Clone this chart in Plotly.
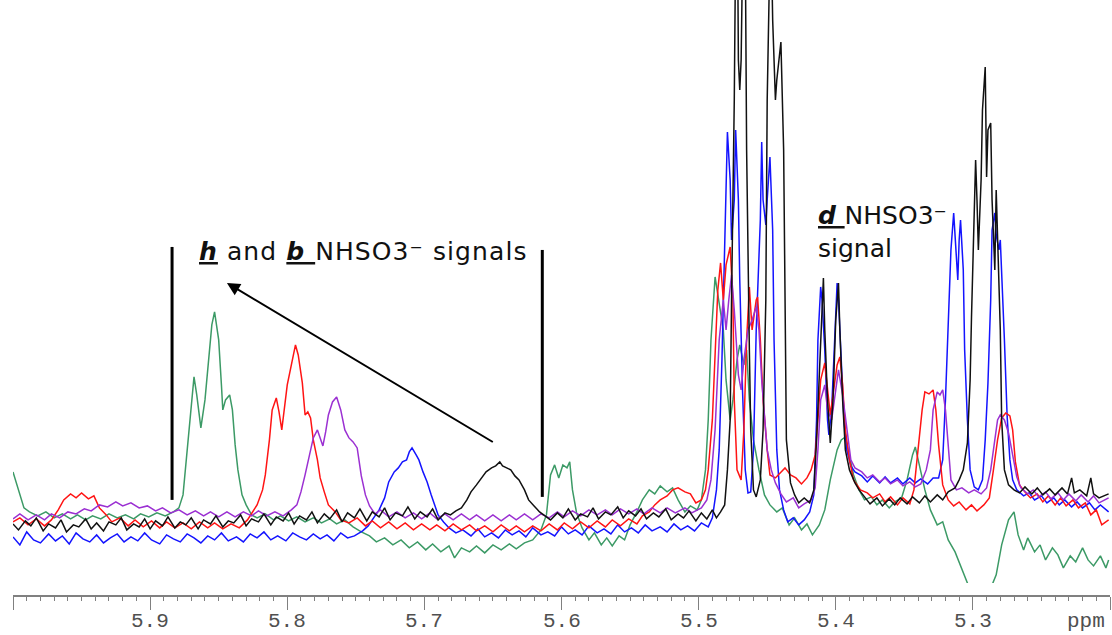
import plotly.graph_objects as go

# (chemical shift in ppm, intensity in arbitrary units)
green = [(6.000, 43), (5.996, 25), (5.992, 7), (5.988, 3), (5.982, -1), (5.976, 3), (5.970, -3), (5.964, 1),
         (5.958, -4), (5.953, 0), (5.947, -5), (5.942, -1), (5.936, -4), (5.930, 1), (5.924, -3), (5.918, 0),
         (5.912, -4), (5.907, 1), (5.901, -2), (5.895, 2), (5.889, -1), (5.883, 3), (5.879, 7), (5.876, 20),
         (5.873, 65), (5.870, 115), (5.868, 138), (5.866, 120), (5.863, 87), (5.860, 115), (5.857, 165),
         (5.855, 190), (5.853, 203), (5.850, 175), (5.848, 130), (5.847, 105), (5.845, 115), (5.842, 120),
         (5.840, 105), (5.838, 70), (5.836, 45), (5.833, 20), (5.830, 10), (5.826, 0), (5.822, -3), (5.816, 1),
         (5.810, -5), (5.805, -1), (5.799, -6), (5.793, -2), (5.787, -7), (5.781, -3), (5.775, -8), (5.769, -4),
         (5.764, -9), (5.758, -5), (5.752, -12), (5.746, -17), (5.740, -21), (5.735, -27), (5.729, -23),
         (5.723, -30), (5.717, -25), (5.711, -33), (5.705, -27), (5.699, -35), (5.694, -29), (5.688, -37),
         (5.682, -31), (5.678, -43), (5.673, -33), (5.667, -37), (5.662, -31), (5.656, -38), (5.650, -30),
         (5.644, -35), (5.638, -29), (5.633, -34), (5.627, -28), (5.621, -25), (5.615, -15), (5.611, 0),
         (5.608, 40), (5.605, 50), (5.602, 37), (5.599, 50), (5.596, 47), (5.594, 53), (5.592, 25), (5.589, 2),
         (5.585, -13), (5.580, -25), (5.576, -18), (5.571, -30), (5.567, -23), (5.563, -31), (5.558, -21),
         (5.554, -25), (5.550, -10), (5.545, 3), (5.541, 15), (5.536, 25), (5.532, 21), (5.528, 29), (5.523, 23),
         (5.519, 27), (5.515, 15), (5.510, 3), (5.506, 9), (5.501, 5), (5.498, 15), (5.495, 45), (5.493, 95),
         (5.491, 175), (5.488, 238), (5.486, 220), (5.484, 205), (5.482, 185), (5.480, 135), (5.477, 95),
         (5.475, 115), (5.472, 155), (5.470, 170), (5.467, 150), (5.465, 165), (5.463, 115), (5.460, 75),
         (5.456, 45), (5.452, 20), (5.448, 10), (5.443, 3), (5.439, 7), (5.434, -10), (5.430, -3), (5.425, -15),
         (5.421, -9), (5.417, -20), (5.412, -10), (5.408, 5), (5.404, 35), (5.399, 65), (5.396, 75), (5.393, 78),
         (5.390, 60), (5.387, 40), (5.383, 25), (5.379, 15), (5.374, 18), (5.370, 10), (5.366, 15), (5.361, 7),
         (5.357, 13), (5.352, 17), (5.348, 35), (5.344, 60), (5.342, 68), (5.339, 50), (5.335, 25), (5.331, 5),
         (5.326, -10), (5.322, -7), (5.318, -25), (5.313, -37), (5.309, -51), (5.305, -63), (5.302, -75),
         (5.296, -85), (5.289, -80), (5.283, -60), (5.279, -30), (5.274, -5), (5.270, 3), (5.267, -20),
         (5.263, -35), (5.260, -23), (5.255, -37), (5.251, -30), (5.247, -45), (5.242, -33), (5.238, -40),
         (5.234, -53), (5.229, -41), (5.225, -47), (5.220, -33), (5.216, -45), (5.212, -51), (5.207, -41),
         (5.203, -53), (5.201, -45)]

red = [(6.000, -7), (5.995, -3), (5.989, -10), (5.983, -4), (5.977, -11), (5.972, -5), (5.967, 5), (5.963, 15),
       (5.958, 21), (5.954, 17), (5.950, 22), (5.945, 16), (5.941, 19), (5.937, 7), (5.932, 0), (5.928, -7),
       (5.922, -3), (5.916, -11), (5.911, -5), (5.905, -12), (5.899, -6), (5.893, -13), (5.888, -7), (5.882, -13),
       (5.876, -8), (5.870, -14), (5.864, -7), (5.858, -13), (5.853, -8), (5.847, -14), (5.841, -9), (5.835, -13),
       (5.829, -5), (5.825, 3), (5.822, 10), (5.818, 25), (5.816, 40), (5.813, 75), (5.811, 105), (5.808, 117),
       (5.806, 103), (5.804, 85), (5.802, 105), (5.800, 130), (5.797, 150), (5.795, 165), (5.794, 170),
       (5.792, 160), (5.789, 132), (5.787, 100), (5.785, 103), (5.783, 97), (5.781, 75), (5.778, 55), (5.776, 37),
       (5.773, 23), (5.770, 10), (5.765, 3), (5.761, -5), (5.755, -8), (5.749, -3), (5.743, -11), (5.738, -6),
       (5.732, -13), (5.726, -7), (5.720, -14), (5.714, -8), (5.708, -15), (5.702, -9), (5.696, -15), (5.691, -10),
       (5.685, -16), (5.679, -9), (5.673, -15), (5.667, -10), (5.662, -16), (5.656, -11), (5.650, -17),
       (5.644, -10), (5.638, -16), (5.633, -11), (5.627, -17), (5.621, -11), (5.615, -16), (5.609, -9),
       (5.603, -15), (5.598, -8), (5.592, -14), (5.586, -7), (5.580, -13), (5.574, -6), (5.568, -12), (5.563, -5),
       (5.557, -11), (5.551, -4), (5.545, -9), (5.541, -1), (5.536, 3), (5.532, 10), (5.528, 15), (5.523, 19),
       (5.519, 25), (5.515, 27), (5.510, 23), (5.506, 21), (5.502, 12), (5.498, 15), (5.495, 25), (5.493, 45),
       (5.490, 95), (5.488, 165), (5.486, 225), (5.484, 252), (5.482, 215), (5.480, 250), (5.477, 268),
       (5.475, 215), (5.474, 115), (5.472, 45), (5.469, 35), (5.467, 85), (5.465, 175), (5.463, 228),
       (5.461, 185), (5.458, 215), (5.457, 218), (5.455, 175), (5.453, 115), (5.450, 65), (5.448, 40),
       (5.444, 37), (5.440, 43), (5.437, 47), (5.433, 40), (5.429, 37), (5.425, 31), (5.421, 37), (5.418, 45),
       (5.415, 60), (5.413, 95), (5.411, 135), (5.408, 152), (5.406, 125), (5.404, 100), (5.402, 120),
       (5.399, 150), (5.397, 158), (5.395, 130), (5.393, 85), (5.390, 55), (5.387, 35), (5.382, 25), (5.377, 22),
       (5.373, 17), (5.368, 21), (5.364, 13), (5.360, 18), (5.355, 10), (5.351, 17), (5.346, 11), (5.343, 25),
       (5.340, 65), (5.337, 105), (5.335, 123), (5.332, 121), (5.329, 125), (5.327, 105), (5.325, 70),
       (5.322, 30), (5.318, 15), (5.314, 9), (5.310, 13), (5.305, 5), (5.301, 10), (5.297, 4), (5.292, 10),
       (5.288, 17), (5.285, 45), (5.282, 75), (5.279, 97), (5.276, 102), (5.273, 99), (5.271, 85), (5.269, 53),
       (5.266, 30), (5.262, 23), (5.258, 17), (5.253, 21), (5.249, 13), (5.245, 19), (5.240, 10), (5.236, 17),
       (5.232, 9), (5.227, 15), (5.223, 7), (5.218, 12), (5.214, 0), (5.210, 5), (5.206, -10), (5.201, -5)]

purple = [(6.000, -4), (5.995, 1), (5.989, -5), (5.983, 0), (5.977, -5), (5.972, 1), (5.966, -3), (5.960, 3),
          (5.954, 1), (5.948, 6), (5.943, 4), (5.937, 10), (5.931, 8), (5.925, 13), (5.920, 9), (5.914, 12),
          (5.908, 7), (5.902, 9), (5.896, 4), (5.891, 7), (5.885, 2), (5.879, 5), (5.873, 0), (5.867, 4),
          (5.861, -1), (5.856, 3), (5.850, -2), (5.844, 3), (5.838, -2), (5.832, 3), (5.826, -1), (5.821, 4),
          (5.815, -1), (5.809, 3), (5.803, -1), (5.797, 5), (5.793, 10), (5.790, 23), (5.787, 40), (5.784, 60),
          (5.781, 77), (5.778, 85), (5.776, 77), (5.774, 69), (5.772, 83), (5.770, 100), (5.767, 113),
          (5.764, 118), (5.761, 105), (5.758, 85), (5.755, 77), (5.752, 73), (5.749, 67), (5.746, 39), (5.743, 20),
          (5.740, 9), (5.736, 1), (5.732, 5), (5.726, -2), (5.720, 3), (5.714, -3), (5.708, 2), (5.702, -4),
          (5.696, 2), (5.691, -4), (5.685, 1), (5.679, -5), (5.673, 1), (5.667, -5), (5.662, 0), (5.656, -6),
          (5.650, 0), (5.644, -6), (5.638, 0), (5.633, -5), (5.627, 1), (5.621, -5), (5.615, 1), (5.609, -3),
          (5.603, 3), (5.598, -2), (5.592, 4), (5.586, -1), (5.580, 5), (5.574, 0), (5.568, 5), (5.563, 0),
          (5.557, 6), (5.551, 1), (5.545, 6), (5.540, 1), (5.534, 7), (5.528, 2), (5.523, 7), (5.517, 2),
          (5.510, 7), (5.505, 2), (5.498, 7), (5.494, 15), (5.491, 35), (5.488, 85), (5.485, 175), (5.482, 215),
          (5.480, 185), (5.478, 215), (5.476, 240), (5.474, 205), (5.471, 140), (5.469, 125), (5.467, 155),
          (5.464, 185), (5.461, 195), (5.458, 208), (5.456, 185), (5.454, 135), (5.452, 95), (5.450, 65),
          (5.447, 45), (5.444, 32), (5.440, 21), (5.436, 13), (5.431, 17), (5.427, 7), (5.423, 11), (5.418, 15),
          (5.415, 27), (5.413, 65), (5.411, 115), (5.408, 130), (5.406, 105), (5.403, 95), (5.400, 125),
          (5.398, 145), (5.395, 120), (5.392, 85), (5.389, 55), (5.386, 47), (5.381, 43), (5.377, 37), (5.373, 40),
          (5.368, 33), (5.364, 37), (5.360, 31), (5.355, 35), (5.351, 29), (5.346, 33), (5.342, 28), (5.338, 31),
          (5.334, 45), (5.331, 65), (5.329, 105), (5.326, 123), (5.324, 120), (5.322, 125), (5.320, 105),
          (5.318, 65), (5.316, 35), (5.312, 25), (5.308, 27), (5.303, 22), (5.299, 25), (5.294, 21), (5.290, 27),
          (5.287, 45), (5.284, 75), (5.282, 95), (5.280, 100), (5.277, 95), (5.274, 82), (5.271, 60), (5.268, 38),
          (5.265, 27), (5.260, 21), (5.256, 25), (5.252, 18), (5.247, 23), (5.243, 16), (5.238, 22), (5.234, 15),
          (5.230, 21), (5.225, 14), (5.221, 20), (5.216, 13), (5.212, 19), (5.208, 12), (5.201, 17)]

blue = [(6.000, -22), (5.995, -30), (5.990, -17), (5.985, -25), (5.980, -28), (5.974, -19), (5.969, -26),
        (5.964, -21), (5.959, -29), (5.954, -18), (5.949, -24), (5.944, -27), (5.939, -20), (5.934, -28),
        (5.929, -23), (5.924, -19), (5.919, -27), (5.914, -22), (5.909, -26), (5.904, -18), (5.899, -25),
        (5.893, -29), (5.888, -20), (5.883, -24), (5.878, -27), (5.873, -19), (5.868, -23), (5.863, -28),
        (5.858, -21), (5.853, -25), (5.848, -18), (5.843, -26), (5.837, -22), (5.832, -27), (5.827, -19),
        (5.822, -23), (5.817, -17), (5.812, -25), (5.807, -21), (5.801, -26), (5.796, -18), (5.791, -22),
        (5.786, -25), (5.781, -19), (5.776, -24), (5.771, -20), (5.766, -26), (5.761, -18), (5.756, -23),
        (5.751, -21), (5.745, -16), (5.741, -11), (5.737, -3), (5.733, 5), (5.729, 17), (5.726, 33), (5.722, 43),
        (5.719, 47), (5.716, 53), (5.713, 55), (5.711, 63), (5.709, 67), (5.706, 60), (5.704, 55), (5.701, 43),
        (5.698, 33), (5.695, 20), (5.693, 12), (5.690, 0), (5.686, -7), (5.682, -13), (5.677, -18), (5.672, -15),
        (5.666, -21), (5.661, -14), (5.656, -22), (5.651, -18), (5.646, -23), (5.641, -15), (5.636, -20),
        (5.631, -16), (5.626, -22), (5.621, -13), (5.615, -20), (5.610, -17), (5.605, -21), (5.600, -12),
        (5.595, -19), (5.590, -15), (5.585, -20), (5.580, -11), (5.574, -18), (5.569, -14), (5.564, -19),
        (5.559, -10), (5.554, -17), (5.549, -13), (5.544, -18), (5.539, -10), (5.534, -16), (5.528, -12),
        (5.523, -17), (5.518, -9), (5.513, -15), (5.508, -11), (5.503, -16), (5.498, -8), (5.493, -12),
        (5.490, -3), (5.487, 25), (5.485, 65), (5.483, 155), (5.481, 265), (5.479, 383), (5.477, 335),
        (5.476, 275), (5.474, 315), (5.473, 385), (5.471, 315), (5.470, 235), (5.468, 125), (5.466, 45),
        (5.464, 22), (5.462, 23), (5.460, 65), (5.458, 185), (5.455, 295), (5.454, 373), (5.453, 315),
        (5.451, 290), (5.450, 315), (5.448, 358), (5.446, 285), (5.445, 175), (5.443, 65), (5.441, 25),
        (5.438, 5), (5.435, -7), (5.431, -3), (5.427, -10), (5.423, -5), (5.419, 3), (5.416, 20), (5.414, 95),
        (5.413, 175), (5.411, 228), (5.410, 215), (5.408, 165), (5.406, 95), (5.405, 80), (5.403, 105),
        (5.401, 175), (5.399, 232), (5.398, 215), (5.396, 148), (5.394, 95), (5.392, 65), (5.389, 49),
        (5.386, 43), (5.381, 39), (5.377, 33), (5.373, 39), (5.368, 32), (5.364, 38), (5.360, 32), (5.355, 37),
        (5.351, 31), (5.346, 37), (5.342, 32), (5.338, 36), (5.333, 31), (5.329, 37), (5.325, 37), (5.322, 55),
        (5.320, 115), (5.318, 198), (5.316, 265), (5.314, 302), (5.313, 275), (5.311, 235), (5.310, 275),
        (5.309, 295), (5.307, 245), (5.306, 165), (5.304, 95), (5.302, 45), (5.299, 28), (5.296, 25), (5.293, 35),
        (5.291, 75), (5.289, 132), (5.287, 215), (5.286, 285), (5.284, 302), (5.283, 280), (5.281, 265),
        (5.280, 275), (5.279, 235), (5.277, 175), (5.275, 98), (5.273, 55), (5.271, 35), (5.268, 25), (5.263, 19),
        (5.259, 22), (5.255, 15), (5.250, 19), (5.246, 12), (5.241, 17), (5.237, 10), (5.233, 15), (5.228, 8),
        (5.224, 13), (5.220, 7), (5.215, 12), (5.211, 5), (5.207, 10), (5.201, 3)]

black = [(6.000, -9), (5.996, -15), (5.991, -6), (5.987, -11), (5.983, -3), (5.978, -16), (5.974, -9),
         (5.969, -13), (5.965, -5), (5.961, -17), (5.956, -10), (5.952, -12), (5.947, -4), (5.943, -14),
         (5.939, -8), (5.934, -16), (5.930, -7), (5.925, -10), (5.921, -3), (5.917, -15), (5.912, -9),
         (5.908, -12), (5.904, -4), (5.900, -14), (5.896, -6), (5.891, -11), (5.887, -2), (5.882, -13),
         (5.878, -7), (5.874, -10), (5.870, -3), (5.865, -14), (5.861, -5), (5.856, -9), (5.852, -1),
         (5.847, -12), (5.843, -6), (5.839, -8), (5.834, 0), (5.830, -11), (5.826, -4), (5.821, -7),
         (5.817, 1), (5.812, -10), (5.808, -2), (5.803, -6), (5.799, 2), (5.795, -9), (5.791, -1), (5.786, -5),
         (5.782, 3), (5.778, -8), (5.773, 1), (5.769, -4), (5.764, 5), (5.760, -7), (5.756, 2), (5.751, -3),
         (5.747, 6), (5.742, -6), (5.738, 3), (5.733, -2), (5.729, 7), (5.725, -5), (5.721, 2), (5.716, -1),
         (5.712, 8), (5.707, -4), (5.703, 3), (5.698, -2), (5.694, 6), (5.690, -5), (5.685, 2), (5.681, 0),
         (5.677, 4), (5.673, 7), (5.669, 15), (5.666, 23), (5.662, 30), (5.658, 37), (5.655, 43), (5.651, 47),
         (5.648, 49), (5.645, 53), (5.643, 49), (5.640, 47), (5.637, 45), (5.634, 39), (5.631, 35), (5.627, 25),
         (5.624, 15), (5.620, 9), (5.616, 3), (5.612, -1), (5.608, -5), (5.603, 2), (5.599, -3), (5.595, 6),
         (5.590, -5), (5.586, 1), (5.581, -2), (5.577, 7), (5.573, -4), (5.568, 3), (5.564, 0), (5.559, 8),
         (5.555, -3), (5.551, 4), (5.546, -1), (5.542, 6), (5.538, -4), (5.533, 2), (5.529, -2), (5.524, 6),
         (5.520, -5), (5.515, 1), (5.511, -3), (5.507, 4), (5.502, -6), (5.498, 2), (5.494, -4), (5.490, 5),
         (5.487, -3), (5.484, 3), (5.481, 10), (5.479, 45), (5.477, 95), (5.476, 215), (5.474, 415), (5.473, 575),
         (5.4715, 555), (5.471, 455), (5.470, 425), (5.469, 455), (5.468, 555), (5.466, 575), (5.465, 365),
         (5.463, 165), (5.462, 85), (5.460, 25), (5.458, 18), (5.455, 35), (5.453, 85), (5.451, 215),
         (5.450, 415), (5.448, 565), (5.447, 575), (5.446, 495), (5.444, 415), (5.443, 435), (5.441, 465),
         (5.440, 473), (5.438, 365), (5.437, 185), (5.436, 75), (5.433, 32), (5.430, 20), (5.427, 12), (5.423, 17),
         (5.419, 12), (5.416, 25), (5.414, 75), (5.411, 165), (5.409, 237), (5.408, 185), (5.406, 115),
         (5.404, 72), (5.402, 115), (5.400, 195), (5.398, 232), (5.397, 185), (5.395, 115), (5.393, 65),
         (5.390, 45), (5.386, 32), (5.383, 25), (5.379, 18), (5.375, 11), (5.370, 17), (5.366, 9), (5.361, 16),
         (5.357, 10), (5.353, 17), (5.348, 11), (5.344, 18), (5.339, 12), (5.335, 19), (5.331, 13), (5.326, 20),
         (5.322, 15), (5.318, 23), (5.313, 27), (5.310, 35), (5.307, 45), (5.304, 72), (5.302, 135), (5.301, 198),
         (5.299, 295), (5.298, 355), (5.297, 315), (5.296, 265), (5.294, 335), (5.293, 405), (5.291, 448),
         (5.290, 338), (5.289, 385), (5.287, 392), (5.286, 315), (5.284, 245), (5.283, 325), (5.282, 275),
         (5.280, 185), (5.279, 95), (5.277, 45), (5.274, 30), (5.270, 25), (5.266, 22), (5.262, 28), (5.257, 21),
         (5.253, 27), (5.249, 20), (5.244, 26), (5.240, 20), (5.235, 27), (5.231, 21), (5.228, 37), (5.226, 22),
         (5.222, 25), (5.217, 19), (5.214, 37), (5.212, 21), (5.208, 17), (5.201, 21)]

series = [
    ("green", green, "#3c9a66"),
    ("blue", blue, "#1414ff"),
    ("red", red, "#ff1414"),
    ("purple", purple, "#9b30d2"),
    ("black", black, "#111111"),
]

major_ticks = [6.0, 5.9, 5.8, 5.7, 5.6, 5.5, 5.4, 5.3, 5.2]
major_labels = ["", "5.9", "5.8", "5.7", "5.6", "5.5", "5.4", "5.3", ""]

fig = go.Figure()
for name, pts, col in series:
    xs = [p[0] for p in pts]
    ys = [p[1] for p in pts]
    fig.add_trace(go.Scatter(x=xs, y=ys, mode="lines", name=name,
                             line=dict(color=col, width=1.5), showlegend=False,
                             hoverinfo="skip"))

# marker bars around the h / b region
for xb, y0, y1 in [(5.884, 15, 268), (5.614, 18, 265)]:
    fig.add_shape(type="line", xref="x", yref="y", x0=xb, x1=xb, y0=y0, y1=y1,
                  line=dict(color="black", width=3))

# arrow
fig.add_annotation(x=5.844, y=232, ax=5.649, ay=72, xref="x", yref="y", axref="x", ayref="y",
                   text="", showarrow=True, arrowhead=2, arrowsize=1.3, arrowwidth=2,
                   arrowcolor="black", standoff=0, startstandoff=0)

label_font = dict(family="DejaVu Sans", size=25, color="#111111")
fig.add_annotation(x=5.866, y=263, xref="x", yref="y", xanchor="left", yanchor="middle",
                   text=('<span style="letter-spacing:1.1px"><b><i><u>h</u></i></b> and '
                         '<b><i><u>b </u></i></b>NHSO3⁻ signals</span>'),
                   showarrow=False, font=label_font)
fig.add_annotation(x=5.4146, y=283, xref="x", yref="y", xanchor="left", yanchor="middle",
                   align="left",
                   text="<b><i><u>d </u></i></b>NHSO3⁻<br>signal",
                   showarrow=False, font=label_font)

# tick labels placed just below the tick marks
axis_font = dict(family="Liberation Mono", size=21, color="#505050")
for tv, tl in zip(major_ticks, major_labels):
    if tl:
        fig.add_annotation(x=tv, y=-0.043, xref="x", yref="paper", xanchor="center",
                           yanchor="middle", text=tl, showarrow=False, font=axis_font)

# axis unit label
fig.add_annotation(x=5.2, y=-0.043, xref="x", yref="paper", xanchor="right", yanchor="middle",
                   xshift=-3, text="ppm", showarrow=False, font=axis_font)

fig.update_layout(
    width=1112, height=635,
    margin=dict(l=13, r=2, t=0, b=39, autoexpand=False),
    paper_bgcolor="white", plot_bgcolor="white",
    xaxis=dict(range=[6.0, 5.2], anchor="free", position=0, automargin=False,
               tickmode="array", tickvals=major_ticks, showticklabels=False,
               ticks="outside", ticklen=13, tickwidth=1.3, tickcolor="#808080",
               showline=True, linecolor="#808080", linewidth=1.5,
               showgrid=False, zeroline=False,
               minor=dict(tickmode="linear", tick0=5.2, dtick=0.01, ticks="outside",
                          ticklen=4, tickwidth=1, tickcolor="#808080", showgrid=False)),
    yaxis=dict(range=[-68, 515], domain=[0.022, 1], visible=False, showgrid=False,
               zeroline=False, automargin=False),
)

fig.write_html("out.html")
